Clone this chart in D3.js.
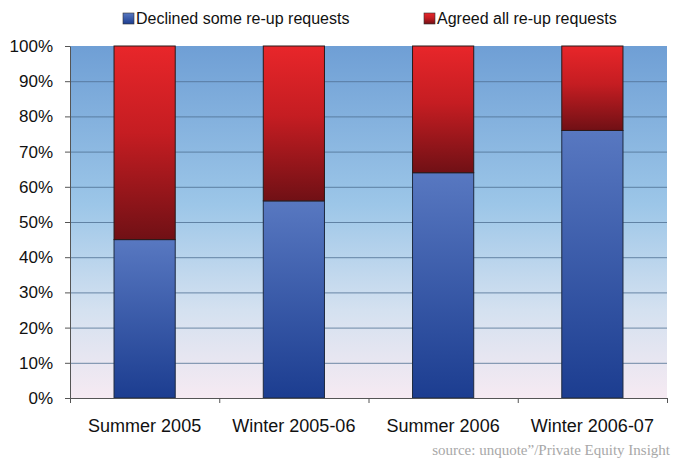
<!DOCTYPE html>
<html>
<head>
<meta charset="utf-8">
<script src="https://cdn.jsdelivr.net/npm/d3@7"></script>
<style>
  html, body { margin: 0; padding: 0; background: #ffffff; }
  svg { display: block; }
</style>
</head>
<body>
<svg id="chart" width="673" height="461"></svg>
<script>
// Re-up request outcomes by fundraising period (share of LPs)
const categories = ["Summer 2005", "Winter 2005-06", "Summer 2006", "Winter 2006-07"];
const declinedSome = [45, 56, 64, 76];
const agreedAll = [55, 44, 36, 24];
const yTicks = [0, 10, 20, 30, 40, 50, 60, 70, 80, 90, 100];
const seriesNames = ["Declined some re-up requests", "Agreed all re-up requests"];
const sourceNote = "source: unquote\u201d/Private Equity Insight";

const svg = d3.select("#chart");
const margin = { left: 70, right: 6, top: 46, bottom: 63 };
const W = 673, H = 461;
const x0 = margin.left, x1 = W - margin.right;
const yTop = margin.top, yBot = H - margin.bottom;

const x = d3.scaleBand().domain(categories).range([x0, x1]).paddingInner(0.59).paddingOuter(0.295);
const xBands = d3.scaleBand().domain(categories).range([x0, x1]);
const y = d3.scaleLinear().domain([0, 100]).range([yBot, yTop]);

const defs = svg.append("defs");
const bg = defs.append("linearGradient").attr("id", "bg").attr("x1", 0).attr("y1", 0).attr("x2", 0).attr("y2", 1);
bg.append("stop").attr("offset", "0%").attr("stop-color", "#6f9fd5");
bg.append("stop").attr("offset", "45%").attr("stop-color", "#9cc6e8");
bg.append("stop").attr("offset", "75%").attr("stop-color", "#d4e1f0");
bg.append("stop").attr("offset", "100%").attr("stop-color", "#f6eaf2");

const blueG = defs.append("linearGradient").attr("id", "blueG").attr("x1", 0).attr("y1", 0).attr("x2", 0).attr("y2", 1);
blueG.append("stop").attr("offset", "0%").attr("stop-color", "#5878c1");
blueG.append("stop").attr("offset", "100%").attr("stop-color", "#1c3d90");

const redG = defs.append("linearGradient").attr("id", "redG").attr("x1", 0).attr("y1", 0).attr("x2", 0).attr("y2", 1);
redG.append("stop").attr("offset", "0%").attr("stop-color", "#e8262a");
redG.append("stop").attr("offset", "45%").attr("stop-color", "#c51d22");
redG.append("stop").attr("offset", "100%").attr("stop-color", "#701015");

// plot background
svg.append("rect").attr("x", x0).attr("y", yTop).attr("width", x1 - x0).attr("height", yBot - yTop).attr("fill", "url(#bg)");

// horizontal gridlines
svg.append("g").selectAll("line").data(yTicks.filter(d => d > 0 && d < 100)).join("line")
  .attr("x1", x0).attr("x2", x1)
  .attr("y1", d => y(d) + 0.5).attr("y2", d => y(d) + 0.5)
  .attr("stroke", "#4f6f92").attr("stroke-opacity", 0.8).attr("stroke-width", 1);

// stacked bars
const bars = svg.append("g");
categories.forEach((c, i) => {
  bars.append("rect")
    .attr("x", x(c)).attr("y", y(declinedSome[i]))
    .attr("width", x.bandwidth()).attr("height", y(0) - y(declinedSome[i]))
    .attr("fill", "url(#blueG)").attr("stroke", "#1e2a40").attr("stroke-width", 1);
  bars.append("rect")
    .attr("x", x(c)).attr("y", y(declinedSome[i] + agreedAll[i]))
    .attr("width", x.bandwidth()).attr("height", y(declinedSome[i]) - y(declinedSome[i] + agreedAll[i]))
    .attr("fill", "url(#redG)").attr("stroke", "#2a1a1a").attr("stroke-width", 1);
});

// y axis
const yAxis = svg.append("g").attr("transform", `translate(${x0},0)`)
  .call(d3.axisLeft(y).tickValues(yTicks).tickFormat(d => d + "%").tickSize(5).tickSizeOuter(0));
yAxis.select(".domain").attr("stroke", "#555");
yAxis.selectAll(".tick line").attr("stroke", "#555");
yAxis.selectAll("text").attr("font-family", "Liberation Sans, Arial, sans-serif").attr("font-size", 17)
  .attr("fill", "#111").attr("x", -17);

// x axis with ticks at band boundaries
const xAxisG = svg.append("g").attr("transform", `translate(0,${yBot})`);
xAxisG.append("line").attr("x1", x0).attr("x2", x1).attr("y1", 0.5).attr("y2", 0.5).attr("stroke", "#555");
const boundaries = categories.map(c => xBands(c)).concat([x1]);
xAxisG.selectAll("line.tk").data(boundaries).join("line").attr("class", "tk")
  .attr("x1", d => d + 0.5).attr("x2", d => d + 0.5).attr("y1", 0).attr("y2", 5).attr("stroke", "#555");
xAxisG.selectAll("text").data(categories).join("text")
  .attr("x", d => xBands(d) + xBands.bandwidth() / 2).attr("y", 34)
  .attr("text-anchor", "middle")
  .attr("font-family", "Liberation Sans, Arial, sans-serif").attr("font-size", 18).attr("fill", "#111")
  .text(d => d);

// legend
const legendColors = ["url(#blueG)", "url(#redG)"];
const legendX = [123, 424];
const lg = svg.append("g");
seriesNames.forEach((s, i) => {
  lg.append("rect").attr("x", legendX[i]).attr("y", 13).attr("width", 11).attr("height", 11)
    .attr("fill", legendColors[i]).attr("stroke", "#333").attr("stroke-width", 0.6);
  lg.append("text").attr("x", legendX[i] + 13).attr("y", 24)
    .attr("font-family", "Liberation Sans, Arial, sans-serif").attr("font-size", 16).attr("fill", "#111")
    .text(s);
});

// source note
svg.append("text").attr("x", 670).attr("y", 455).attr("text-anchor", "end")
  .attr("font-family", "Liberation Serif, Times New Roman, serif").attr("font-size", 15).attr("fill", "#a8a8a8")
  .text(sourceNote);
</script>
</body>
</html>
